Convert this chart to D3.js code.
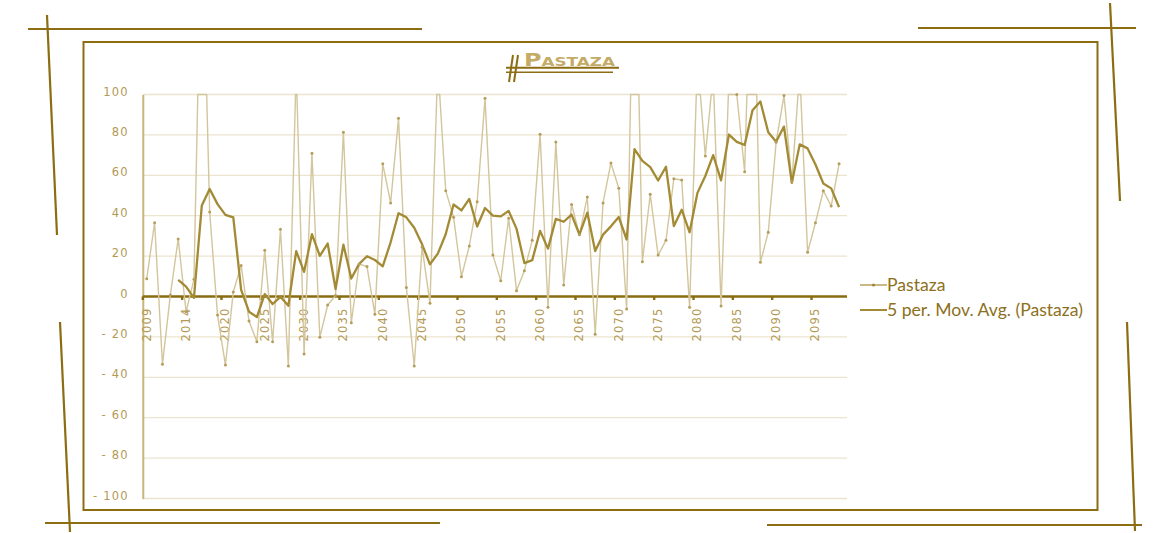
<!DOCTYPE html>
<html>
<head>
<meta charset="utf-8">
<script src="https://cdn.jsdelivr.net/npm/d3@7"></script>
<style>
  html, body { margin: 0; padding: 0; background: #fff; }
  svg { display: block; }
</style>
</head>
<body>
<svg id="chart" width="1164" height="533"></svg>
<script>
// categories (one year, 2015, is not in the source table)
const years = [2009, 2010, 2011, 2012, 2013, 2014].concat(d3.range(2016, 2099));

// Pastaza values (values above 100 are cut off by the axis)
const pastaza = [
  8.8, 36.5, -33.6, 0.7, 28.5, -7.5, 8.5, 195, 41.8, -9.2,
  -33.9, 2.2, 15.4, -12.1, -22.4, 22.9, -22.4, 33.3, -34.4, 113,
  -28.5, 70.9, -20.2, -4.2, 0.5, 81.3, -13, 16.1, 14.8, -8.8,
  65.7, 46.3, 88.2, 4.5, -34.4, 24.5, -3.4, 115, 52.4, 39.2,
  9.8, 25, 46.9, 98.1, 20.5, 7.8, 38.7, 2.9, 12.8, 27.8,
  80.3, -5.3, 76.5, 5.7, 45.6, 30.6, 49.3, -18.7, 46.3, 66.1,
  53.6, -6.2, 205, 17.2, 50.6, 20.5, 27.8, 58.3, 57.7, -5.3,
  118, 69.6, 110, -4.7, 108, 100, 61.8, 196, 16.9, 31.8,
  76.4, 99.5, 56.8, 112, 21.9, 36.5, 52.4, 44.8, 65.7
];

// 5 period moving average as drawn (starts at the 5th category)
const movAvg = [
  null, null, null, null, 8.18, 4.92, -0.68, 45.04, 53.26, 45.72,
  40.44, 39.18, 3.26, -7.52, -10.16, 1.2, -3.72, -0.14, -4.6, 22.48,
  12.2, 30.86, 20.16, 26.2, 3.7, 25.66, 8.88, 16.14, 19.94, 18.08,
  14.96, 26.82, 41.24, 39.18, 34.06, 25.82, 15.88, 21.24, 30.82, 45.54,
  42.6, 48.28, 34.66, 43.8, 40.06, 39.66, 42.4, 33.6, 16.54, 18.0,
  32.5, 23.7, 38.42, 37.0, 40.56, 30.62, 41.54, 22.5, 30.62, 34.72,
  39.32, 28.22, 72.96, 67.14, 64.04, 57.42, 64.22, 34.88, 42.98, 31.8,
  51.3, 59.66, 70.0, 57.52, 80.18, 76.58, 75.02, 92.22, 96.54, 81.3,
  76.58, 84.12, 56.28, 75.3, 73.32, 65.34, 55.92, 53.52, 44.26
];

const yTicks = [100, 80, 60, 40, 20, 0, -20, -40, -60, -80, -100];
const legendLabels = ['Pastaza', '5 per. Mov. Avg. (Pastaza)'];

const frameColor = '#8c6d12';
const axisDark = '#8a6c10';
const axisLight = '#c9b47a';
const gridColor = '#ece4cf';
const labelColor = '#b39a55';
const seriesColor = '#d3c59c';
const markerColor = '#b59e5c';
const avgColor = '#a38a34';

const plot = { left: 142.8, right: 843, top: 94.5, bottom: 498.5, axisEnd: 847 };

const svg = d3.select('#chart');

// decorative frame
const deco = svg.append('g').attr('stroke', frameColor).attr('stroke-width', 2.2).attr('fill', 'none');
[
  [28, 29, 422, 29], [47, 15, 57, 235],
  [918, 28, 1136, 28], [1110, 3, 1120, 201],
  [45, 523, 440, 523], [60, 322, 70, 532],
  [767, 525, 1142, 525], [1127, 322, 1135, 531]
].forEach(l => deco.append('line')
  .attr('x1', l[0]).attr('y1', l[1]).attr('x2', l[2]).attr('y2', l[3]));
deco.append('rect').attr('x', 83.5).attr('y', 42).attr('width', 1014).attr('height', 468)
  .attr('stroke-width', 2);

const x = d3.scaleBand().domain(years).range([plot.left, plot.right]).padding(0);
const y = d3.scaleLinear().domain([-100, 100]).range([plot.bottom, plot.top]);
const cx = i => x(years[i]) + x.bandwidth() / 2;

// gridlines
svg.append('g').selectAll('line')
  .data(yTicks.filter(t => t !== 0))
  .enter().append('line')
  .attr('x1', plot.left).attr('x2', plot.axisEnd)
  .attr('y1', d => y(d)).attr('y2', d => y(d))
  .attr('stroke', gridColor).attr('stroke-width', 1.3);

// y axis
const yAxis = svg.append('g')
  .attr('transform', `translate(${plot.left},0)`)
  .call(d3.axisLeft(y).tickValues(yTicks).tickSize(0).tickPadding(14)
    .tickFormat(d => d < 0 ? '- ' + (-d) : String(d)));
yAxis.select('.domain').attr('stroke', axisLight).attr('stroke-width', 2);
yAxis.selectAll('text')
  .attr('dy', '0.05em')
  .attr('fill', labelColor)
  .style('font-family', 'DejaVu Sans')
  .style('font-size', '11.5px')
  .style('letter-spacing', '1.2px');

// x axis at zero
const labelIdx = d3.range(0, years.length, 5);
const xAxis = svg.append('g').attr('transform', `translate(0,${y(0)})`);
xAxis.append('line')
  .attr('x1', plot.left).attr('x2', plot.axisEnd)
  .attr('stroke', axisDark).attr('stroke-width', 2.4);
xAxis.selectAll('.tick')
  .data(labelIdx)
  .enter().append('rect')
  .attr('x', i => x(years[i]) - 1.2).attr('y', 0)
  .attr('width', 2.4).attr('height', 3.5)
  .attr('fill', axisDark);
xAxis.selectAll('.xl')
  .data(labelIdx)
  .enter().append('text')
  .attr('transform', i => `translate(${cx(i) + 4},${11}) rotate(-90)`)
  .attr('text-anchor', 'end')
  .attr('fill', labelColor)
  .style('font-family', 'DejaVu Sans')
  .style('font-size', '11.5px')
  .style('letter-spacing', '1.2px')
  .text(i => years[i]);

// the value axis stops at 100: parts of the line above it run along the top edge
function capAtTop(values) {
  const top = y.range()[1];
  const pts = values.map((v, i) => [cx(i), y(v)]);
  const out = [];
  pts.forEach((p, i) => {
    if (i > 0) {
      const q = pts[i - 1];
      if ((q[1] < top) !== (p[1] < top)) {
        const t = (top - q[1]) / (p[1] - q[1]);
        out.push([q[0] + t * (p[0] - q[0]), top]);
      }
    }
    if (p[1] >= top) out.push(p);
  });
  return out;
}

svg.append('path')
  .datum(capAtTop(pastaza))
  .attr('d', d3.line())
  .attr('fill', 'none')
  .attr('stroke', seriesColor)
  .attr('stroke-width', 1.4)
  .attr('stroke-linejoin', 'round');

svg.append('path')
  .datum(movAvg)
  .attr('d', d3.line().defined(d => d !== null).x((d, i) => cx(i)).y(d => y(d)))
  .attr('fill', 'none')
  .attr('stroke', avgColor)
  .attr('stroke-width', 2.3)
  .attr('stroke-linejoin', 'round');

svg.append('g').selectAll('circle')
  .data(pastaza.map((v, i) => ({ v, i })).filter(d => d.v <= 100))
  .enter().append('circle')
  .attr('cx', d => cx(d.i))
  .attr('cy', d => y(d.v))
  .attr('r', 1.5)
  .attr('fill', markerColor);

// title
const title = svg.append('g');
title.append('line').attr('x1', 513).attr('y1', 55).attr('x2', 509).attr('y2', 82)
  .attr('stroke', frameColor).attr('stroke-width', 2);
title.append('line').attr('x1', 518).attr('y1', 55).attr('x2', 514).attr('y2', 82)
  .attr('stroke', frameColor).attr('stroke-width', 2);
title.append('line').attr('x1', 506).attr('y1', 67.8).attr('x2', 619).attr('y2', 67.8)
  .attr('stroke', frameColor).attr('stroke-width', 2);
title.append('line').attr('x1', 506).attr('y1', 72.3).attr('x2', 613).attr('y2', 72.3)
  .attr('stroke', frameColor).attr('stroke-width', 1.6);
title.append('text')
  .attr('x', 524).attr('y', 65.5)
  .attr('textLength', 91).attr('lengthAdjust', 'spacingAndGlyphs')
  .attr('fill', '#c4ab66')
  .style('font-family', 'DejaVu Sans')
  .style('font-weight', 'bold')
  .style('font-size', '17px')
  .style('font-variant', 'small-caps')
  .text('Pastaza');

// legend
const legend = svg.append('g').attr('transform', 'translate(860,0)');
const legendY = [285, 310];
legend.append('line').attr('x1', 0).attr('x2', 27).attr('y1', legendY[0]).attr('y2', legendY[0])
  .attr('stroke', avgColor).attr('stroke-width', 1.2);
legend.append('circle').attr('cx', 13.5).attr('cy', legendY[0]).attr('r', 1.6).attr('fill', avgColor);
legend.append('line').attr('x1', 0).attr('x2', 27).attr('y1', legendY[1]).attr('y2', legendY[1])
  .attr('stroke', avgColor).attr('stroke-width', 2);
legend.selectAll('text')
  .data(legendLabels)
  .enter().append('text')
  .attr('x', 27).attr('y', (d, i) => legendY[i] + 6)
  .attr('fill', '#8c7020')
  .style('font-family', 'Lato')
  .style('font-size', '17.6px')
  .text(d => d);
</script>
</body>
</html>
